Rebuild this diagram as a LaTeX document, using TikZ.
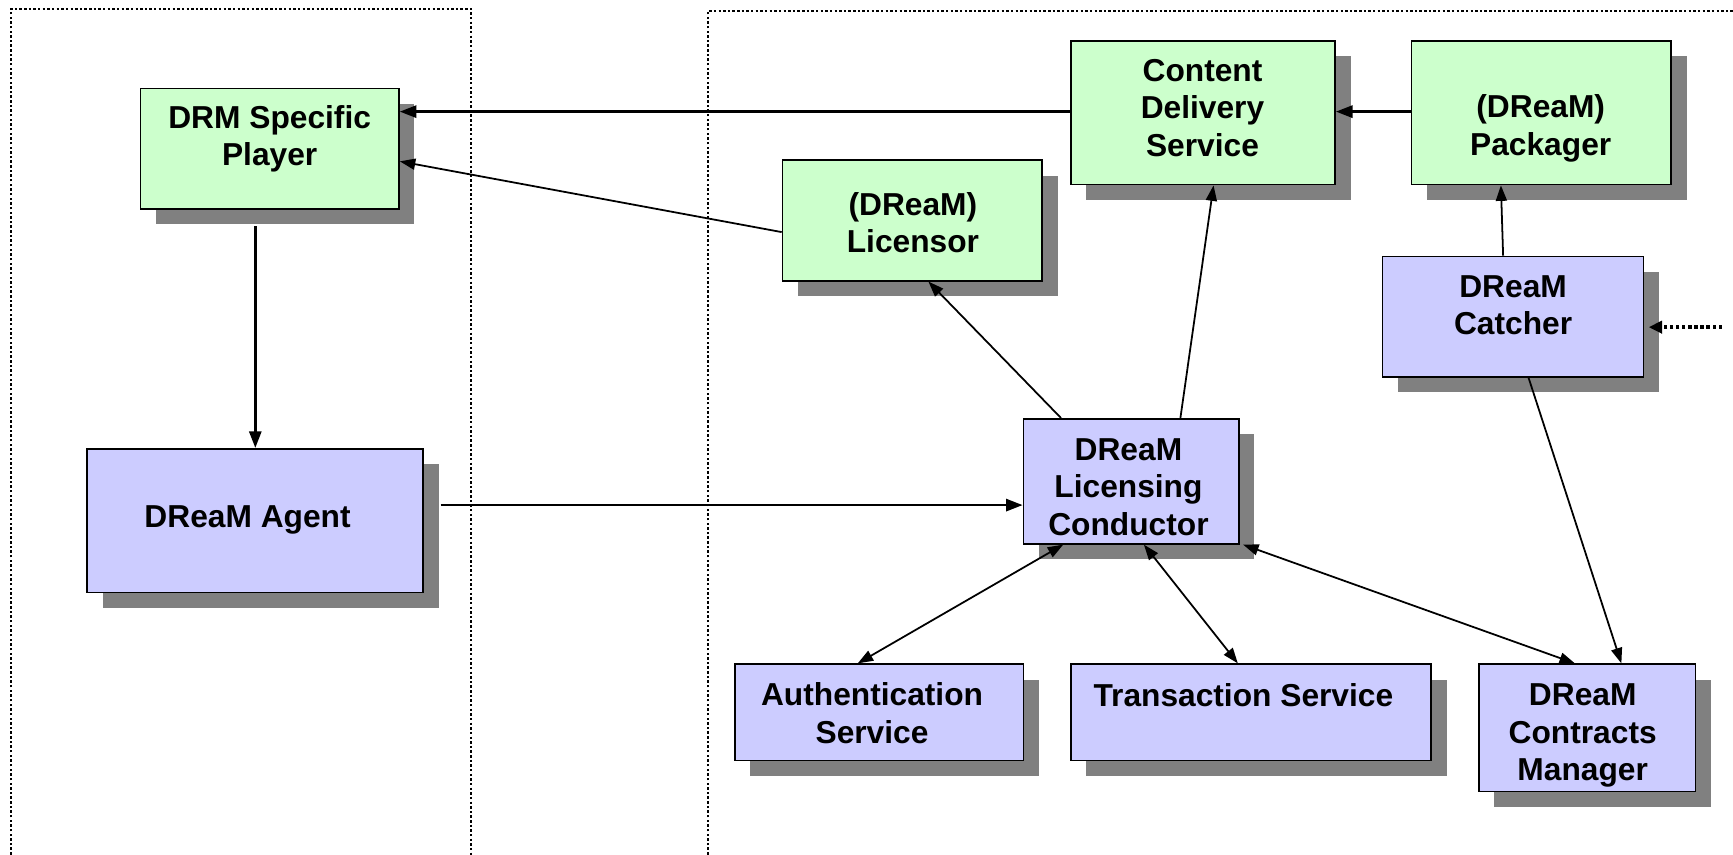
\documentclass[tikz,border=0pt]{standalone}
\usepackage{fontspec}
\setmainfont{Liberation Sans}
\usetikzlibrary{arrows.meta,shadows,calc}
\definecolor{gfill}{HTML}{CCFFCC}
\definecolor{bfill}{HTML}{CCCCFF}
\definecolor{sgray}{HTML}{808080}
\begin{document}
\begin{tikzpicture}[x=1pt,y=-1pt,
  boxbase/.style={draw=black,line width=1.5pt,inner sep=0pt,
    drop shadow={shadow xshift=14pt,shadow yshift=-14pt,fill=sgray,opacity=1}},
  gbox/.style={boxbase,fill=gfill},
  bbox/.style={boxbase,fill=bfill},
  lbl/.style={font=\bfseries\fontsize{28.7}{34}\selectfont,align=center,inner sep=0pt},
  frame/.style={line width=2pt,dash pattern=on 2.2pt off 2pt},
  conn/.style={line width=2.2pt,-{Triangle[length=15pt,width=11pt]}},
  dconn/.style={line width=1.6pt,-{Triangle[length=14pt,width=10pt]}},
  bconn/.style={line width=1.6pt,{Triangle[length=14pt,width=10pt]}-{Triangle[length=14pt,width=10pt]}},
  xconn/.style={line width=3pt,dash pattern=on 3pt off 2.5pt,-{Triangle[length=12pt,width=11pt]}}
]
\useasboundingbox (0,0) rectangle (1568,772.8);
% frames
\draw[frame] (10,790) -- (10,8) -- (426,8) -- (426,790);
\draw[frame] (640.5,790) -- (640.5,10) -- (1580,10);
% boxes
\node[gbox,minimum width=234pt,minimum height=109pt] (player) at (244,134.5) {};
\node[bbox,minimum width=304pt,minimum height=130pt] (agent) at (231,471) {};
\node[gbox,minimum width=239pt,minimum height=130pt] (cds) at (1088.5,102) {};
\node[gbox,minimum width=235pt,minimum height=130pt] (pack) at (1394.5,102) {};
\node[gbox,minimum width=235pt,minimum height=109pt] (lic) at (825.5,199.5) {};
\node[bbox,minimum width=236pt,minimum height=109pt] (catch) at (1369,286.5) {};
\node[bbox,minimum width=195pt,minimum height=113pt] (cond) at (1023.5,435.5) {};
\node[bbox,minimum width=261pt,minimum height=87pt] (auth) at (795.5,644.5) {};
\node[bbox,minimum width=326pt,minimum height=87pt] (trans) at (1132,644.5) {};
\node[bbox,minimum width=196pt,minimum height=115pt] (cm) at (1436,658.5) {};
% labels
\node[lbl] (tplayer) at (244,125.5) {DRM Specific\\Player};
\node[lbl] (tagent) at (224,470.5) {DReaM Agent};
\node[lbl] (tcds) at (1088,97.5) {Content\\Delivery\\Service};
\node[lbl] (tpack) at (1394,116) {(DReaM)\\Packager};
\node[lbl] (tlic) at (826,201.5) {(DReaM)\\Licensor};
\node[lbl] (tcatch) at (1369,276) {DReaM\\Catcher};
\node[lbl] (tcond) at (1021,440.5) {DReaM\\Licensing\\Conductor};
\node[lbl] (tauth) at (789,645) {Authentication\\Service};
\node[lbl] (ttrans) at (1125,629) {Transaction Service};
\node[lbl] (tcm) at (1432,665.5) {DReaM\\Contracts\\Manager};
\coordinate (ext) at (1558,296);
% connectors
\draw[conn] ([yshift=1pt]cds.west) -- ([yshift=1pt]cds.west -| player.east);
\draw[conn] ([yshift=1pt]pack.west) -- ([yshift=1pt]cds.east);
\draw[dconn] ([yshift=-10.5pt]lic.west) -- ([yshift=-11.5pt]player.east);
\draw[conn] ([yshift=-15pt]agent.north |- player.south) -- (agent.north);
\draw[conn] ([xshift=15pt,yshift=14pt]agent.east) -- ([yshift=14pt]agent.east -| cond.west);
\draw[dconn] ([xshift=-63.5pt]cond.north) -- ([xshift=14.5pt]lic.south);
\draw[dconn] ([xshift=44.5pt]cond.north) -- ([xshift=9.5pt]cds.south);
\draw[dconn] ([xshift=-9pt]catch.north) -- ([xshift=-36.5pt]pack.south);
\draw[dconn] ([xshift=14pt]catch.south) -- ([xshift=31pt]cm.north);
\draw[xconn] (ext) -- ([xshift=4pt]catch.east |- ext);
\draw[bconn] ([xshift=-61.5pt]cond.south) -- ([xshift=-19.5pt]auth.north);
\draw[bconn] ([xshift=11.5pt]cond.south) -- ([xshift=-12pt]trans.north);
\draw[bconn] ([xshift=3pt]cond.south east) -- ([xshift=-11pt]cm.north);
\end{tikzpicture}
\end{document}
